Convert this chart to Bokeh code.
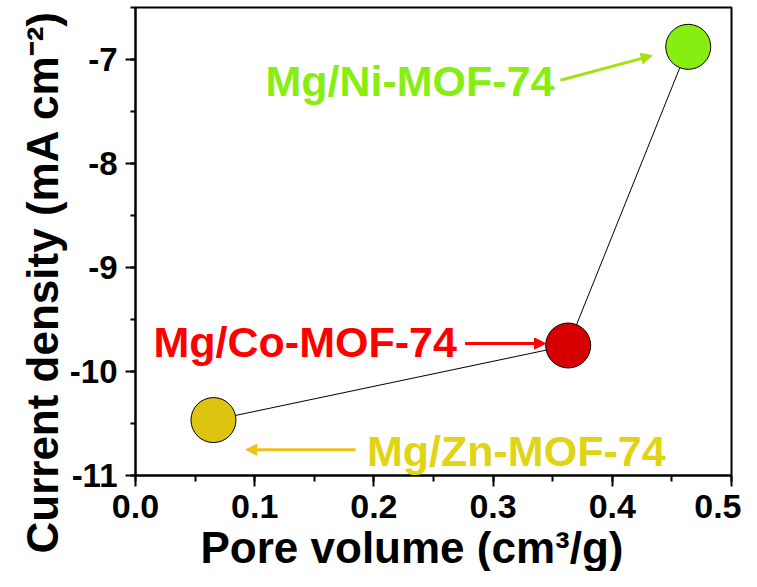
from bokeh.plotting import figure
from bokeh.models import Range1d, Label, Arrow, NormalHead, SingleIntervalTicker, PrintfTickFormatter, Title
from bokeh.embed import file_html
from bokeh.resources import INLINE

# data
samples = ["Mg/Zn-MOF-74", "Mg/Co-MOF-74", "Mg/Ni-MOF-74"]
pore_volume = [0.0654, 0.363, 0.4637]
current_density = [-10.467, -9.75, -6.878]
marker_colors = ["#DCC410", "#D60000", "#88EE11"]
x_title = "Pore volume (cm³/g)"
y_title = "Current density (mA cm⁻²)"

FONT = "Liberation Sans"

p = figure(width=741, height=571, output_backend="svg", toolbar_location=None,
           x_range=Range1d(0.0, 0.5), y_range=Range1d(-11.0, -6.5),
           min_border_left=135, min_border_right=10, min_border_top=7, min_border_bottom=89)
p.background_fill_color = "white"
p.border_fill_color = "white"
p.grid.visible = False
p.outline_line_color = "black"
p.outline_line_width = 2

for ax in (p.xaxis[0], p.yaxis[0]):
    ax.axis_line_width = 2
    ax.major_tick_line_width = 2
    ax.minor_tick_line_width = 2
    ax.major_label_text_font = FONT
    ax.major_label_text_font_style = "bold"
    ax.major_label_text_color = "black"
    ax.major_tick_in = 0
    ax.minor_tick_in = 0

p.xaxis.ticker = SingleIntervalTicker(interval=0.1, num_minor_ticks=2)
p.yaxis.ticker = SingleIntervalTicker(interval=1, num_minor_ticks=2)
p.xaxis.formatter = PrintfTickFormatter(format="%.1f")
p.yaxis.formatter = PrintfTickFormatter(format="%d")
p.xaxis.major_tick_out = 11
p.xaxis.minor_tick_out = 6
p.yaxis.major_tick_out = 10
p.yaxis.minor_tick_out = 5
p.xaxis.major_label_text_font_size = "34px"
p.yaxis.major_label_text_font_size = "33px"
p.xaxis.major_label_standoff = 8
p.yaxis.major_label_standoff = 8

# connecting line and markers
p.line(pore_volume, current_density, line_color="black", line_width=1)
p.scatter(pore_volume, current_density, size=45, fill_color=marker_colors,
          line_color="black", line_width=1)

# annotations
ann = [
    ("Mg/Ni-MOF-74", "#88EE11", 0.109, -7.205, (0.3565, -7.200, 0.4335, -6.963), "#A6E012"),
    ("Mg/Co-MOF-74", "#FF0000", 0.0151, -9.712, (0.2765, -9.731, 0.344, -9.731), "#FF0000"),
    ("Mg/Zn-MOF-74", "#E0D414", 0.1942, -10.76, (0.1846, -10.752, 0.0926, -10.752), "#F0C014"),
]
for txt, col, tx, ty, (x0, y0, x1, y1), acol in ann:
    p.add_layout(Label(x=tx, y=ty, text=txt, text_color=col, text_font=FONT,
                       text_font_style="bold", text_font_size="43px",
                       text_baseline="alphabetic", text_align="left"))
    p.add_layout(Arrow(x_start=x0, y_start=y0, x_end=x1, y_end=y1,
                       line_color=acol, line_width=3,
                       end=NormalHead(size=11, fill_color=acol, line_color=acol)))

# axis titles
tprops = Title.properties()
xt = Title(text=x_title, align="left", offset=65, text_font=FONT, text_font_style="bold",
           text_font_size="44px", text_color="black")
yt = Title(text=y_title, align="left", offset=-78, text_font=FONT, text_font_style="bold",
           text_font_size="44px", text_color="black")
if "standoff" in tprops:
    xt.standoff = 0
    yt.standoff = 0
p.add_layout(xt, "below")
p.add_layout(yt, "left")

open("out.html", "w").write(file_html(p, INLINE))
